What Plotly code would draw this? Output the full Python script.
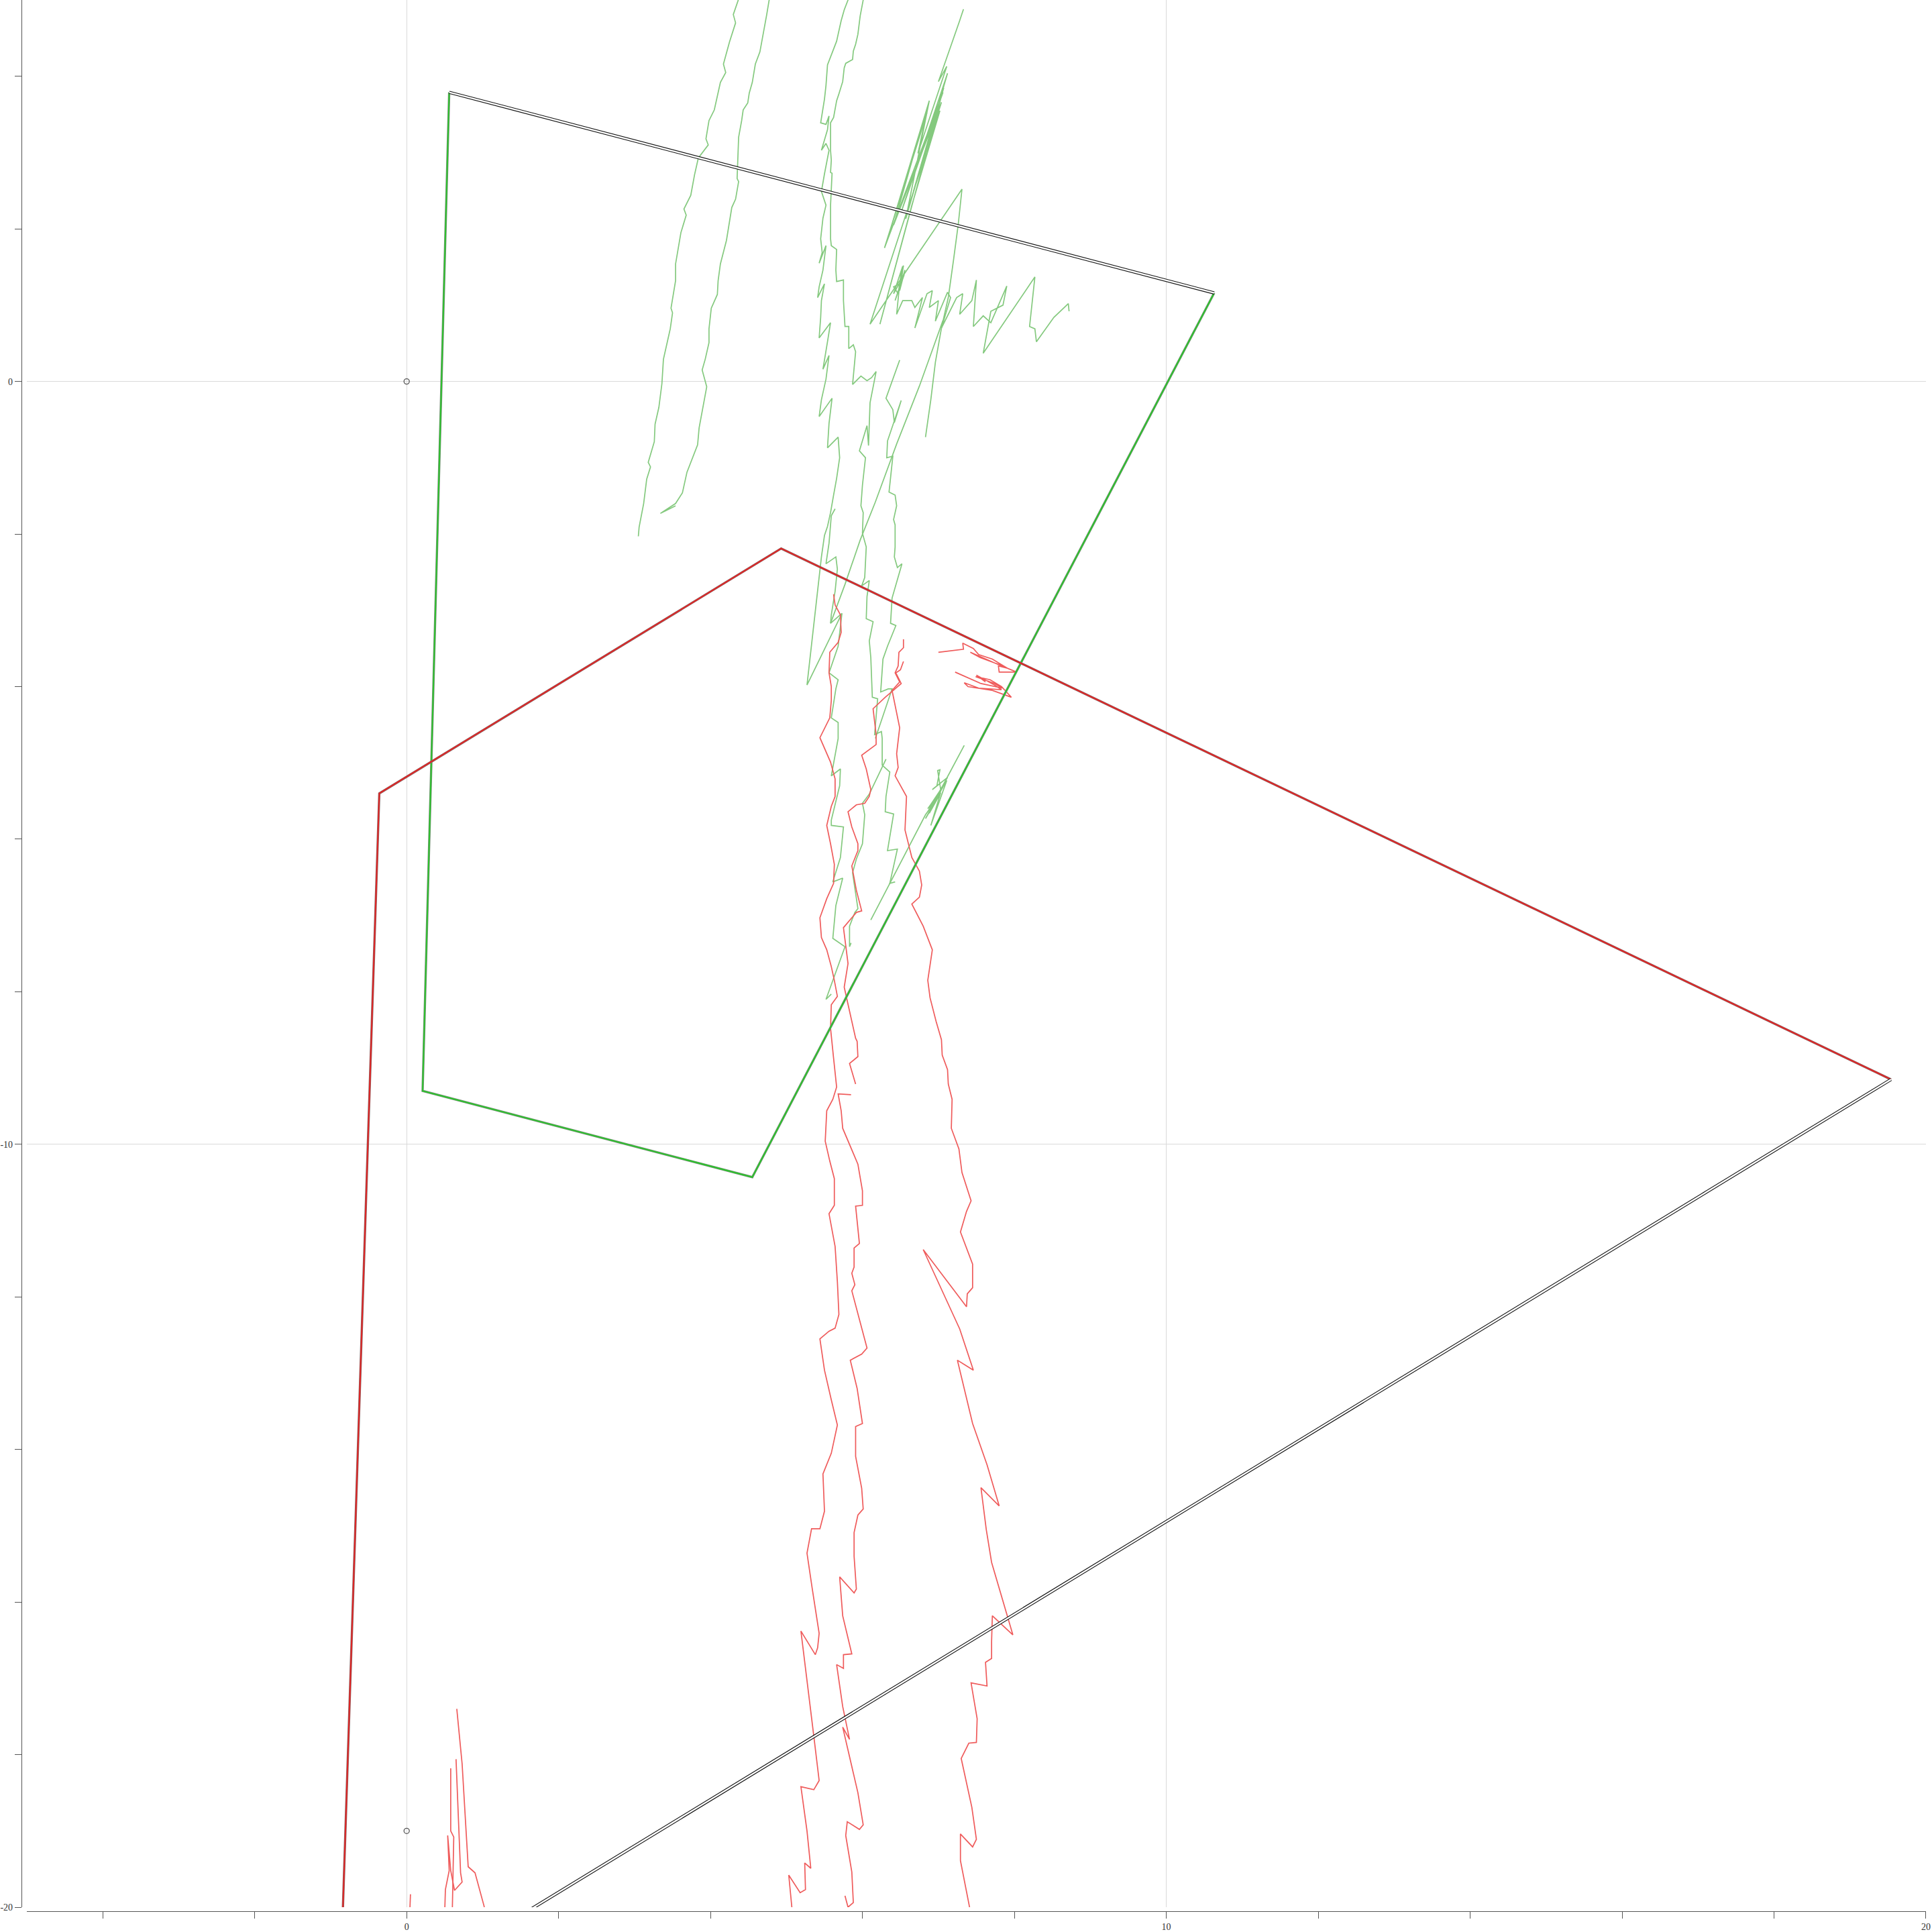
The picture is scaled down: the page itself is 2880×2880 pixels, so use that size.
import plotly.graph_objects as go

# ---------------- data (data units) ----------------
x_tick_major = [0, 10, 20]
y_tick_major = [-20, -10, 0]

origin_marks_x = [0, 0]
origin_marks_y = [0, -19]

# polygons: coloured edges, then the outlined closing edge
green_poly = [(10.63, 1.16), (4.55, -10.43), (0.21, -9.30), (0.56, 3.79)]
green_close = [(0.56, 3.79), (10.63, 1.16)]
red_poly = [(-0.89, -21.56), (-0.36, -5.40), (4.93, -2.19), (19.54, -9.15)]
red_close = [(19.54, -9.15), (-0.89, -21.56)]

green_walk_1 = [(4.40, 5.10), (4.36, 4.99), (4.30, 4.81), (4.33, 4.70), (4.25, 4.45), (4.17, 4.16), (4.20, 4.05),
                (4.13, 3.92), (4.05, 3.56), (3.98, 3.42), (3.94, 3.18), (3.97, 3.10), (3.84, 2.93), (3.79, 2.71),
                (3.74, 2.44), (3.65, 2.26), (3.68, 2.18), (3.61, 1.95), (3.54, 1.54), (3.54, 1.32), (3.48, 0.96),
                (3.50, 0.90), (3.47, 0.69), (3.38, 0.29), (3.36, -0.03), (3.32, -0.34), (3.27, -0.56), (3.26, -0.79),
                (3.18, -1.06), (3.21, -1.12), (3.16, -1.28), (3.12, -1.60), (3.06, -1.91), (3.05, -2.03)]
green_walk_2 = [(4.80, 5.10), (4.77, 4.99), (4.74, 4.81), (4.68, 4.50), (4.65, 4.32), (4.59, 4.16), (4.55, 3.92),
                (4.51, 3.78), (4.49, 3.65), (4.43, 3.56), (4.41, 3.42), (4.37, 3.20), (4.36, 2.98), (4.35, 2.66),
                (4.37, 2.62), (4.33, 2.39), (4.28, 2.28), (4.24, 2.04), (4.21, 1.85), (4.13, 1.54), (4.10, 1.32),
                (4.09, 1.14), (4.01, 0.96), (3.98, 0.69), (3.98, 0.51), (3.93, 0.29), (3.89, 0.15), (3.95, -0.07),
                (3.89, -0.39), (3.85, -0.61), (3.83, -0.83), (3.69, -1.19), (3.63, -1.46), (3.54, -1.60),
                (3.34, -1.73), (3.54, -1.63)]
green_walk_3 = [(5.84, 5.10), (5.81, 5.00), (5.76, 4.87), (5.72, 4.73), (5.68, 4.55), (5.66, 4.46), (5.54, 4.15),
                (5.52, 3.88), (5.50, 3.70), (5.46, 3.43), (5.45, 3.39), (5.52, 3.37), (5.56, 3.48), (5.54, 3.30),
                (5.46, 3.03), (5.52, 3.12), (5.56, 3.03), (5.50, 2.72), (5.46, 2.49), (5.52, 2.31), (5.48, 2.14),
                (5.45, 1.87), (5.47, 1.69), (5.43, 1.55), (5.52, 1.78), (5.48, 1.46), (5.43, 1.24), (5.41, 1.10),
                (5.50, 1.28), (5.46, 1.06), (5.45, 0.84), (5.43, 0.57), (5.58, 0.77), (5.54, 0.52), (5.50, 0.30),
                (5.48, 0.16), (5.56, 0.34), (5.52, 0.03), (5.46, -0.24), (5.43, -0.46), (5.60, -0.22), (5.56, -0.55),
                (5.54, -0.87), (5.68, -0.73), (5.70, -1.00), (5.66, -1.27), (5.62, -1.49), (5.58, -1.72),
                (5.54, -1.90), (5.50, -2.02), (5.46, -2.30), (5.40, -2.84), (5.34, -3.38), (5.27, -3.98),
                (5.73, -3.04)]
green_walk_4 = [(5.64, -1.67), (5.59, -1.76), (5.56, -2.12), (5.52, -2.39), (5.65, -2.30), (5.67, -2.46),
                (5.64, -2.75), (5.59, -3.06), (5.58, -3.17), (5.73, -3.04), (5.68, -3.47), (5.56, -3.82),
                (5.68, -3.91), (5.65, -4.03), (5.59, -4.41), (5.68, -4.47), (5.68, -4.68), (5.59, -5.17),
                (5.71, -5.08), (5.70, -5.30), (5.59, -5.75), (5.59, -5.82), (5.75, -5.84), (5.71, -6.24),
                (5.61, -6.56), (5.74, -6.51), (5.65, -6.87), (5.61, -7.30), (5.77, -7.41), (5.52, -8.10),
                (5.59, -8.03)]
green_walk_5 = [(7.06, 0.80), (6.75, -0.06), (6.45, -0.82), (6.17, -1.58), (5.97, -2.08), (5.77, -2.66),
                (5.58, -3.17)]
green_walk_6 = [(6.02, 5.10), (6.01, 5.00), (5.97, 4.79), (5.94, 4.55), (5.91, 4.42), (5.88, 4.33), (5.87, 4.22),
                (5.78, 4.17), (5.76, 4.11), (5.74, 3.93), (5.69, 3.77), (5.66, 3.68), (5.62, 3.46), (5.58, 3.39),
                (5.58, 3.21), (5.58, 3.03), (5.59, 2.90), (5.58, 2.74), (5.60, 2.73), (5.59, 2.49), (5.58, 2.31),
                (5.58, 2.09), (5.58, 1.87), (5.59, 1.78), (5.66, 1.73), (5.65, 1.46), (5.66, 1.31), (5.75, 1.33),
                (5.75, 1.06), (5.77, 0.72), (5.82, 0.72), (5.82, 0.43), (5.88, 0.48), (5.91, 0.39), (5.87, -0.04),
                (5.98, 0.07), (6.06, 0.01), (6.12, 0.05), (6.18, 0.13), (6.10, -0.28), (6.08, -0.84), (6.06, -0.58),
                (5.96, -0.91), (6.04, -1.00), (6.00, -1.36), (5.98, -1.63), (6.01, -1.72), (6.00, -1.99),
                (6.05, -2.17), (6.03, -2.57), (5.99, -2.68), (6.09, -2.61), (6.06, -2.82), (6.05, -3.11),
                (6.14, -3.15), (6.09, -3.40), (6.11, -3.62), (6.13, -4.14), (6.20, -4.16), (6.16, -4.63),
                (6.25, -4.59), (6.26, -4.68), (6.26, -5.03), (6.36, -5.12), (6.31, -5.44), (6.30, -5.64),
                (6.41, -5.67), (6.33, -6.15), (6.46, -6.13), (6.36, -6.58), (6.43, -6.56)]
green_walk_7 = [(6.49, 0.28), (6.31, -0.22), (6.40, -0.37), (6.42, -0.54), (6.51, -0.25), (6.33, -0.78),
                (6.32, -1.00), (6.40, -0.98), (6.35, -1.45), (6.43, -1.49), (6.45, -1.63), (6.41, -1.81),
                (6.43, -1.88), (6.43, -2.17), (6.42, -2.30), (6.46, -2.44), (6.52, -2.39), (6.39, -2.84),
                (6.37, -3.17), (6.44, -3.20), (6.33, -3.47), (6.27, -3.64), (6.24, -4.07), (6.34, -4.03),
                (6.39, -4.03), (6.17, -4.68)]
green_walk_8 = [(6.31, -4.95), (6.09, -5.41), (6.00, -5.53), (6.03, -5.68), (6.00, -6.06), (5.92, -6.26),
                (5.87, -6.44), (5.94, -6.91), (5.90, -6.96), (5.83, -7.14), (5.83, -7.41), (5.85, -7.36)]
green_tangle = [(7.34, -4.77), (7.03, -5.35), (6.99, -5.10), (7.02, -5.09), (6.98, -5.30), (6.92, -5.35),
                (7.12, -5.19), (6.86, -5.64), (7.09, -5.26), (6.83, -5.73), (7.03, -5.39), (6.90, -5.82),
                (7.11, -5.23), (6.87, -5.59), (7.06, -5.32), (6.86, -5.60), (7.03, -5.37), (6.88, -5.66),
                (7.01, -5.43), (6.83, -5.68), (6.11, -7.06)]
green_bundle = [(7.33, 4.88), (7.28, 4.73), (7.00, 3.93), (7.11, 4.13), (6.73, 2.99), (6.88, 3.68), (6.33, 1.87),
                (6.85, 3.52), (6.29, 1.75), (7.06, 3.79), (6.51, 2.22), (7.12, 4.04), (6.67, 2.49), (7.04, 3.66),
                (6.41, 2.05), (6.88, 3.68), (6.57, 2.13), (7.07, 3.85), (6.23, 0.75), (6.65, 2.31), (7.02, 3.55),
                (6.10, 0.75), (7.31, 2.52), (7.26, 2.05), (7.20, 1.60), (7.13, 1.10), (7.04, 0.70), (6.96, 0.25),
                (6.90, -0.24), (6.83, -0.73)]
green_scrawl = [(6.54, 1.52), (6.49, 1.19), (6.56, 1.46), (6.43, 1.06), (6.55, 1.40), (6.41, 1.15), (6.53, 1.51),
                (6.51, 1.42), (6.47, 1.15), (6.41, 1.24), (6.49, 1.28), (6.45, 0.88), (6.53, 1.06), (6.65, 1.06),
                (6.69, 0.97), (6.79, 1.10), (6.69, 0.70), (6.85, 1.15), (6.92, 1.19), (6.88, 0.97), (7.00, 1.06),
                (6.96, 0.79), (7.12, 1.17), (7.16, 1.10), (7.04, 0.70), (7.24, 1.10), (7.32, 1.15), (7.28, 0.88),
                (7.44, 1.06), (7.50, 1.33), (7.46, 0.72), (7.59, 0.86), (7.69, 0.77), (7.90, 1.25), (7.85, 1.00),
                (7.69, 0.92), (7.59, 0.37), (8.27, 1.37), (8.20, 0.72), (8.27, 0.69), (8.29, 0.52), (8.52, 0.84),
                (8.71, 1.02), (8.72, 0.92)]

red_walk_1 = [(5.62, -2.79), (5.64, -2.93), (5.71, -3.06), (5.72, -3.29), (5.68, -3.42), (5.57, -3.55),
              (5.56, -3.82), (5.59, -4.00), (5.59, -4.18), (5.57, -4.41), (5.44, -4.67), (5.50, -4.81),
              (5.58, -4.99), (5.64, -5.21), (5.64, -5.44), (5.59, -5.57), (5.53, -5.82), (5.58, -6.06),
              (5.63, -6.33), (5.62, -6.58), (5.53, -6.78), (5.44, -7.03), (5.46, -7.29), (5.53, -7.45),
              (5.59, -7.67), (5.63, -7.85), (5.67, -8.06), (5.59, -8.17), (5.58, -8.48), (5.62, -8.87),
              (5.66, -9.25), (5.61, -9.41), (5.53, -9.56), (5.51, -9.96), (5.57, -10.22), (5.63, -10.45),
              (5.63, -10.80), (5.56, -10.91), (5.64, -11.34), (5.67, -11.80), (5.69, -12.23), (5.64, -12.41),
              (5.56, -12.45), (5.44, -12.55), (5.50, -12.96), (5.59, -13.35), (5.67, -13.68), (5.59, -14.05),
              (5.48, -14.32), (5.50, -14.81), (5.44, -15.04), (5.33, -15.04), (5.27, -15.36), (5.34, -15.83),
              (5.43, -16.41), (5.41, -16.60), (5.38, -16.69), (5.19, -16.38), (5.28, -17.14), (5.36, -17.76),
              (5.43, -18.34), (5.36, -18.46), (5.19, -18.42), (5.27, -19.00), (5.32, -19.49), (5.24, -19.42),
              (5.25, -19.77), (5.18, -19.81), (5.03, -19.58), (5.07, -20.00), (5.08, -20.10)]
red_walk_2 = [(6.54, -3.67), (6.50, -3.78), (6.44, -3.82), (6.51, -3.96), (6.36, -4.09), (6.30, -4.14),
              (6.14, -4.29), (6.18, -4.63), (6.18, -4.76), (6.09, -4.83), (5.99, -4.90), (6.05, -5.08),
              (6.11, -5.35), (6.09, -5.44), (6.03, -5.53), (5.92, -5.55), (5.81, -5.64), (5.86, -5.84),
              (5.94, -6.06), (5.94, -6.15), (5.86, -6.35), (5.92, -6.67), (5.99, -6.94), (5.92, -6.96),
              (5.75, -7.16), (5.81, -7.63), (5.76, -7.94), (5.80, -8.12), (5.86, -8.39), (5.91, -8.61),
              (5.93, -8.65), (5.94, -8.85), (5.83, -8.94), (5.91, -9.21)]
red_walk_3 = [(5.85, -9.35), (5.68, -9.34), (5.72, -9.56), (5.74, -9.79), (5.94, -10.26), (6.00, -10.61),
              (6.00, -10.80), (5.91, -10.81), (5.96, -11.30), (5.89, -11.36), (5.89, -11.61), (5.86, -11.69),
              (5.90, -11.84), (5.86, -11.92), (6.06, -12.67), (5.99, -12.75), (5.84, -12.83), (5.93, -13.20),
              (6.00, -13.66), (5.91, -13.70), (5.91, -14.09), (5.99, -14.51), (6.01, -14.78), (5.94, -14.86),
              (5.89, -15.09), (5.89, -15.40), (5.92, -15.83), (5.89, -15.88), (5.70, -15.67), (5.74, -16.18),
              (5.86, -16.68), (5.75, -16.69), (5.75, -16.87), (5.66, -16.82), (5.74, -17.37), (5.83, -17.80),
              (5.74, -17.64), (5.94, -18.50), (6.01, -18.92), (5.96, -18.98), (5.80, -18.88), (5.78, -19.06),
              (5.86, -19.54), (5.88, -19.94), (5.81, -20.00), (5.77, -19.85)]
red_walk_4 = [(6.54, -3.38), (6.54, -3.49), (6.48, -3.55), (6.47, -3.73), (6.43, -3.82), (6.49, -3.94),
              (6.39, -4.05), (6.49, -4.54), (6.45, -4.88), (6.47, -5.06), (6.43, -5.17), (6.58, -5.44),
              (6.56, -5.88), (6.65, -6.24), (6.75, -6.42), (6.78, -6.60), (6.75, -6.76), (6.65, -6.85),
              (6.80, -7.14), (6.92, -7.45), (6.86, -7.85), (6.89, -8.08), (6.97, -8.39), (7.04, -8.63),
              (7.05, -8.83), (7.12, -9.02), (7.13, -9.21), (7.18, -9.41), (7.17, -9.79), (7.27, -10.06),
              (7.31, -10.37), (7.43, -10.74), (7.37, -10.88), (7.29, -11.15), (7.45, -11.57), (7.45, -11.88),
              (7.38, -11.96), (7.37, -12.13), (6.80, -11.38), (7.28, -12.42), (7.46, -12.96), (7.25, -12.83),
              (7.45, -13.66), (7.64, -14.20), (7.80, -14.74), (7.56, -14.50), (7.63, -15.05), (7.70, -15.48),
              (7.98, -16.43), (7.71, -16.18), (7.70, -16.52), (7.70, -16.74), (7.62, -16.79), (7.64, -17.10),
              (7.43, -17.06), (7.51, -17.53), (7.50, -17.84), (7.40, -17.85), (7.30, -18.05), (7.44, -18.69),
              (7.50, -19.11), (7.45, -19.21), (7.29, -19.04), (7.29, -19.39), (7.41, -20.00), (7.42, -20.10)]
red_knot_1 = [(7.00, -3.55), (7.33, -3.51), (7.32, -3.43), (7.46, -3.50), (7.53, -3.58), (7.71, -3.64),
              (7.91, -3.76), (7.79, -3.73), (7.80, -3.81), (8.03, -3.81), (7.74, -3.69), (7.55, -3.62),
              (7.42, -3.55), (7.74, -3.69), (7.86, -3.73)]
red_knot_2 = [(7.22, -3.81), (7.56, -3.96), (7.84, -4.02), (7.74, -3.96), (7.49, -3.87), (7.68, -3.91),
              (7.83, -4.00), (7.96, -4.14), (7.71, -4.05), (7.39, -4.00), (7.34, -3.95), (7.53, -4.02),
              (7.83, -4.04), (7.74, -3.98), (7.50, -3.85), (7.62, -3.94)]
red_low_1 = [(0.66, -17.40), (0.73, -18.12), (0.81, -19.47), (0.90, -19.55), (1.02, -19.99), (1.03, -20.10)]
red_low_2 = [(0.65, -18.06), (0.69, -19.00), (0.71, -19.55), (0.73, -19.67), (0.63, -19.78), (0.58, -19.52),
             (0.54, -19.06), (0.56, -19.52), (0.51, -19.77), (0.50, -20.10)]
red_low_3 = [(0.58, -18.18), (0.58, -19.00), (0.62, -19.08), (0.60, -20.10)]
red_low_4 = [(0.05, -19.83), (0.04, -20.10)]

green_walks = [green_walk_1, green_walk_2, green_walk_3, green_walk_4, green_walk_5, green_walk_6,
               green_walk_7, green_walk_8, green_tangle, green_bundle, green_scrawl]
red_walks = [red_walk_1, red_walk_2, red_walk_3, red_walk_4, red_knot_1, red_knot_2,
             red_low_1, red_low_2, red_low_3, red_low_4]

# ---------------- figure ----------------
fig = go.Figure()


def add_path(pts, color, width):
    fig.add_trace(go.Scatter(x=[p[0] for p in pts], y=[p[1] for p in pts], mode="lines",
                             line=dict(color=color, width=width), hoverinfo="skip", showlegend=False))


for w in green_walks:
    add_path(w, "#84c97e", 1.7)
for w in red_walks:
    add_path(w, "#ef5b5b", 1.7)

# polygon edges
add_path(green_poly, "#7f8f7f", 3.4)
add_path(green_poly, "#2cc22c", 2.0)
add_path(red_poly, "#8a6a6a", 3.4)
add_path(red_poly, "#e02424", 2.0)
for edge in (green_close, red_close):
    add_path(edge, "#111111", 4.6)
    add_path(edge, "#ffffff", 2.4)

fig.add_trace(go.Scatter(x=origin_marks_x, y=origin_marks_y, mode="markers",
                         marker=dict(symbol="circle-open", size=8, color="#555555", line=dict(width=1.3)),
                         hoverinfo="skip", showlegend=False))

W, H = 2880, 2880
ml, mr, mt, mb = 31, 9, 0, 26
pw, ph = W - ml - mr, H - mt - mb

axis_common = dict(
    showline=True, linecolor="#555555", linewidth=1.3,
    ticks="outside", ticklen=10, tickwidth=1.3, tickcolor="#555555",
    showgrid=True, gridcolor="#dadada", gridwidth=1.2, zeroline=False,
    tickfont=dict(family="Liberation Serif", size=14, color="#333333"),
    minor=dict(dtick=2, tick0=0, ticks="outside", ticklen=10, tickwidth=1.3,
               tickcolor="#555555", showgrid=False),
    anchor="free", position=0, fixedrange=True,
)

fig.update_layout(
    width=W, height=H,
    margin=dict(l=ml, r=mr, t=mt, b=mb, pad=0),
    paper_bgcolor="white", plot_bgcolor="white",
    showlegend=False,
    xaxis=dict(range=[-5, 20], domain=[8 / pw, 1], tickmode="array", tickvals=x_tick_major,
               ticktext=[str(v) for v in x_tick_major], **axis_common),
    yaxis=dict(range=[-20, 5], domain=[6 / ph, 1], tickmode="array", tickvals=y_tick_major,
               ticktext=[str(v) for v in y_tick_major], **axis_common),
)

fig.write_html("out.html", config={"displayModeBar": False},
               post_script="document.body.style.margin='0';document.body.style.overflow='hidden';")
